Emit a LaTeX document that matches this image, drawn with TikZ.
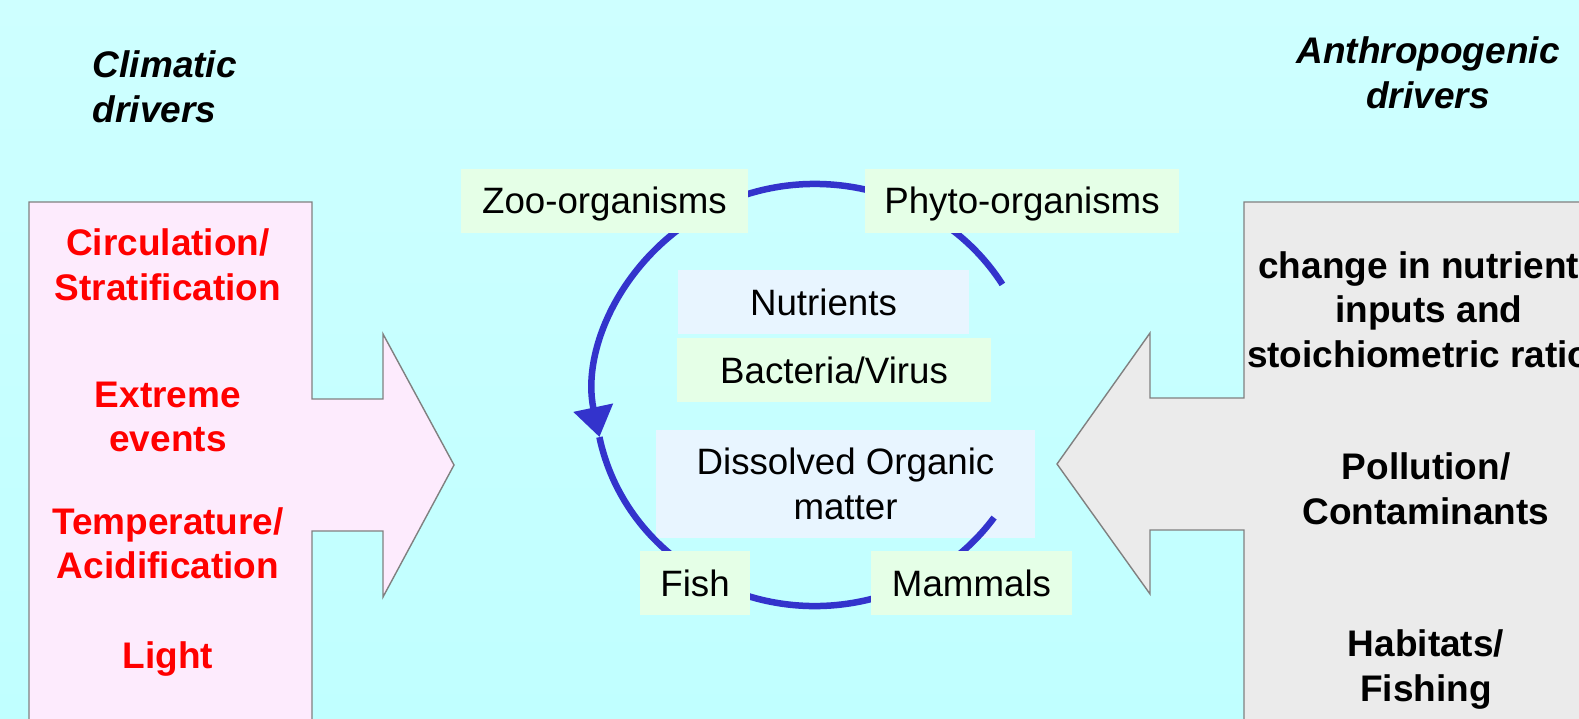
\documentclass[tikz,border=0pt]{standalone}
\usepackage{fontspec}
\setmainfont{Liberation Sans}
\usetikzlibrary{arrows.meta}
\definecolor{bgtop}{RGB}{206,255,255}
\definecolor{bgbot}{RGB}{192,255,255}
\definecolor{pinkfill}{RGB}{253,235,253}
\definecolor{grayfill}{RGB}{235,235,235}
\definecolor{edgegray}{RGB}{128,128,128}
\definecolor{cycblue}{RGB}{51,51,204}
\definecolor{boxgreen}{RGB}{229,255,231}
\definecolor{boxblue}{RGB}{232,245,255}
\newcommand{\bigfont}{\fontsize{37}{44.5}\selectfont}
\newcommand{\boxfont}{\fontsize{36.7}{44.5}\selectfont}
\begin{document}
\begin{tikzpicture}[x=1pt,y=-1pt,
  every node/.style={inner sep=0pt, font=\boxfont},
  driverred/.style={text=red, font=\bigfont\bfseries, align=center, anchor=base},
  driverblack/.style={text=black, font=\bigfont\bfseries, align=center, anchor=base},
  titletext/.style={font=\bigfont\bfseries\itshape},
  bigarrow/.style={draw=edgegray, line width=1.4pt, line join=miter},
  orgbox/.style={fill=boxgreen, text height=26pt, text depth=0pt, minimum height=64pt},
  poolbox/.style={fill=boxblue},
  cycleline/.style={draw=cycblue, line width=6.5pt}
]
\useasboundingbox (0,0) rectangle (1579,719);
\fill[top color=bgtop, bottom color=bgbot] (0,0) rectangle (1579,719);
\clip (0,0) rectangle (1579,719);

% big arrows
\draw[bigarrow, fill=pinkfill] (29,740) -- (29,202) -- (312,202) -- (312,399) -- (383,399) -- (383,334) -- (454,465) -- (383,597) -- (383,531) -- (312,531) -- (312,740) -- cycle;
\draw[bigarrow, fill=grayfill] (1600,202) -- (1244,202) -- (1244,398) -- (1150,398) -- (1150,333) -- (1057,464) -- (1150,594) -- (1150,530) -- (1244,530) -- (1244,740) -- (1600,740) -- cycle;

% titles (anchor base = baseline of last line)
\node[titletext, anchor=base west, align=left] (clim) at (92.7,122.5) {Climatic\\drivers};
\node[titletext, anchor=base, align=center] (anth) at (1428,108.5) {Anthropogenic\\drivers};

% climatic drivers
\node[driverred] (circ) at (168,300.3) {Circulation/\\Stratification};
\node[driverred] (extr) at (168,451.6) {Extreme\\events};
\node[driverred] (temp) at (168,578.5) {Temperature/\\Acidification};
\node[driverred] (light) at (168,668) {Light};

% anthropogenic drivers
\node[driverblack] (nutin) at (1429,367.3) {change in nutrients\\inputs and\\stoichiometric ratios};
\node[driverblack] (poll) at (1426,524) {Pollution/\\Contaminants};
\node[driverblack] (hab) at (1426,701) {Habitats/\\Fishing};

% inner pools
\node[poolbox, minimum width=291pt, minimum height=64pt, text height=26pt, text depth=0pt] (nut) at (823.5,302) {Nutrients};
\node[orgbox, minimum width=314pt] (bac) at (834,370) {Bacteria/Virus};
\node[poolbox, minimum width=379pt, minimum height=108pt, align=center] (dom) at (845.5,484) {Dissolved Organic\\matter};

% cycle
\coordinate (arcA) at (1002.4,284.4);
\coordinate (arcB) at (599.4,437.1);
\draw[cycleline, -{Triangle[length=30pt,width=39pt]}] (arcA) arc[start angle=-31.6, end angle=-191.5, x radius=220, y radius=211];
\draw[cycleline] (arcB) arc[start angle=-191.5, end angle=-324.5, x radius=220, y radius=211];

% organism boxes
\node[orgbox, minimum width=287pt] (zoo) at (604.5,201) {Zoo-organisms};
\node[orgbox, minimum width=314pt] (phyto) at (1022,201) {Phyto-organisms};
\node[orgbox, minimum width=110pt] (fish) at (695,583) {Fish};
\node[orgbox, minimum width=201pt] (mam) at (971.5,583) {Mammals};
\end{tikzpicture}
\end{document}
